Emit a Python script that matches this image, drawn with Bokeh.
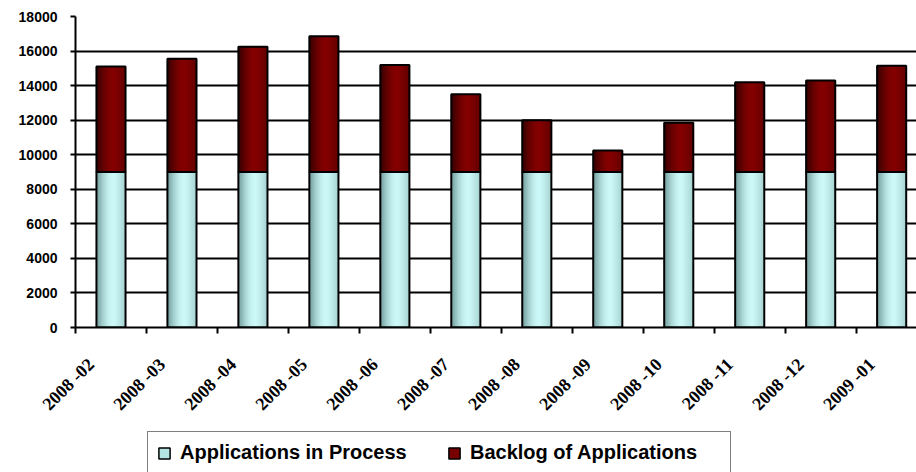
import numpy as np
from bokeh.plotting import figure
from bokeh.models import Range1d, FixedTicker, Legend, LegendItem, LinearAxis
from bokeh.layouts import column
from bokeh.embed import file_html
from bokeh.resources import INLINE

months = ["2008 -02", "2008 -03", "2008 -04", "2008 -05", "2008 -06", "2008 -07",
          "2008 -08", "2008 -09", "2008 -10", "2008 -11", "2008 -12", "2009 -01"]
in_process = [9000, 9000, 9000, 9000, 9000, 9000, 9000, 9000, 9000, 9000, 9000, 9000]
backlog = [6100, 6550, 7250, 7850, 6200, 4500, 3000, 1250, 2850, 5200, 5300, 6150]
y_ticks = [0, 2000, 4000, 6000, 8000, 10000, 12000, 14000, 16000, 18000]
series_names = ["Applications in Process", "Backlog of Applications"]

x = np.arange(len(months), dtype=float)
top1 = np.array(in_process, dtype=float)
top2 = top1 + np.array(backlog, dtype=float)

W = 0.41
N = 24
LABEL_SHIFT = 0.28   # label anchor offset (Excel style rotated labels)


def gradient(dark, light, edge, n):
    cols = []
    for k in range(n):
        t = (k + 0.5) / n
        if t < 0.6:
            f = np.sin(t / 0.6 * np.pi / 2)
        else:
            f = 1 - (1 - edge) * ((t - 0.6) / 0.4) ** 1.3
        c = [int(round(d + (l - d) * f)) for d, l in zip(dark, light)]
        cols.append("#%02x%02x%02x" % tuple(c))
    return cols


cyan_cols = gradient((0x6e, 0x98, 0x98), (0xcc, 0xf8, 0xf8), 0.6, N)
red_cols = gradient((0x30, 0x00, 0x00), (0x84, 0x00, 0x00), 0.6, N)

X0, X1 = -0.5, 11.35
p = figure(width=916, height=430,
           x_range=Range1d(X0, X1), y_range=Range1d(0, 18000),
           output_backend="svg", toolbar_location=None, x_axis_location=None,
           min_border_left=75, min_border_top=16, min_border_right=0,
           min_border_bottom=103)
p.outline_line_color = None
p.background_fill_color = "white"
p.border_fill_color = "white"

p.extra_x_ranges = {"lab": Range1d(X0 + LABEL_SHIFT, X1 + LABEL_SHIFT)}

# base fills (under the shading)
p.vbar(x=x, width=W, bottom=0, top=top1, fill_color=cyan_cols[N // 2], line_color=None)
p.vbar(x=x, width=W, bottom=top1, top=top2, fill_color=red_cols[N // 2], line_color=None)

# shaded slices
for k in range(N):
    xs = x - W / 2 + (k + 0.5) * W / N
    p.vbar(x=xs, width=W / N * 1.6, bottom=0, top=top1,
           fill_color=cyan_cols[k], line_color=None)
    p.vbar(x=xs, width=W / N * 1.6, bottom=top1, top=top2,
           fill_color=red_cols[k], line_color=None)

# outlines
p.vbar(x=x, width=W, bottom=0, top=top1, fill_color=None,
       line_color="black", line_width=2)
p.vbar(x=x, width=W, bottom=top1, top=top2, fill_color=None,
       line_color="black", line_width=2)

# grid
p.xgrid.grid_line_color = None
p.ygrid.ticker = FixedTicker(ticks=y_ticks)
p.ygrid.grid_line_color = "black"
p.ygrid.grid_line_width = 2

# y axis
p.yaxis.ticker = FixedTicker(ticks=y_ticks)
p.yaxis.axis_line_color = "black"
p.yaxis.axis_line_width = 2
p.yaxis.major_tick_out = 5
p.yaxis.major_tick_in = 0
p.yaxis.major_tick_line_width = 2
p.yaxis.minor_tick_out = 0
p.yaxis.minor_tick_in = 0
p.yaxis.major_label_text_font = "Liberation Sans"
p.yaxis.major_label_text_font_style = "bold"
p.yaxis.major_label_text_font_size = "14px"
p.yaxis.major_label_text_color = "black"
p.yaxis.major_label_standoff = 13

# x axis (labels at category centres, ticks at category boundaries)
xaxis = LinearAxis(x_range_name="lab")
xaxis.ticker = FixedTicker(ticks=list(x),
                           minor_ticks=[i - 0.5 + LABEL_SHIFT for i in range(13)])
xaxis.major_label_overrides = {i: m for i, m in enumerate(months)}
xaxis.axis_line_color = "black"
xaxis.axis_line_width = 2
xaxis.major_tick_out = 0
xaxis.major_tick_in = 0
xaxis.minor_tick_out = 6
xaxis.minor_tick_in = 0
xaxis.minor_tick_line_width = 2
xaxis.minor_tick_line_color = "black"
xaxis.major_label_orientation = np.pi / 4
xaxis.major_label_text_font = "Liberation Serif"
xaxis.major_label_text_font_style = "bold"
xaxis.major_label_text_font_size = "18px"
xaxis.major_label_text_color = "black"
xaxis.major_label_standoff = 28
p.add_layout(xaxis, "below")

# legend strip
p2 = figure(width=916, height=42, x_range=Range1d(0, 1), y_range=Range1d(0, 1),
            output_backend="svg", toolbar_location=None,
            x_axis_location=None, y_axis_location=None,
            min_border_left=0, min_border_right=0, min_border_top=0, min_border_bottom=0)
p2.outline_line_color = None
p2.xgrid.grid_line_color = None
p2.ygrid.grid_line_color = None
r1 = p2.vbar(x=x, width=W, bottom=0, top=top1, fill_color="#b4e4e4",
             line_color="black", line_width=1.5, visible=False)
r2 = p2.vbar(x=x, width=W, bottom=top1, top=top2, fill_color="#780000",
             line_color="black", line_width=1.5, visible=False)

legend = Legend(items=[LegendItem(label=series_names[0], renderers=[r1]),
                       LegendItem(label=series_names[1], renderers=[r2])],
                orientation="horizontal", location=(72, -2),
                label_text_font="Liberation Sans", label_text_font_style="bold",
                label_text_font_size="20px", label_text_color="black",
                glyph_width=14, glyph_height=14, label_width=251,
                spacing=16, padding=9, label_standoff=9,
                border_line_color="black", border_line_width=1.5,
                background_fill_color="white", background_fill_alpha=1.0,
                margin=0)
p2.add_layout(legend, "center")

layout = column(p, p2, spacing=0)
open("out.html", "w").write(file_html(layout, INLINE))
